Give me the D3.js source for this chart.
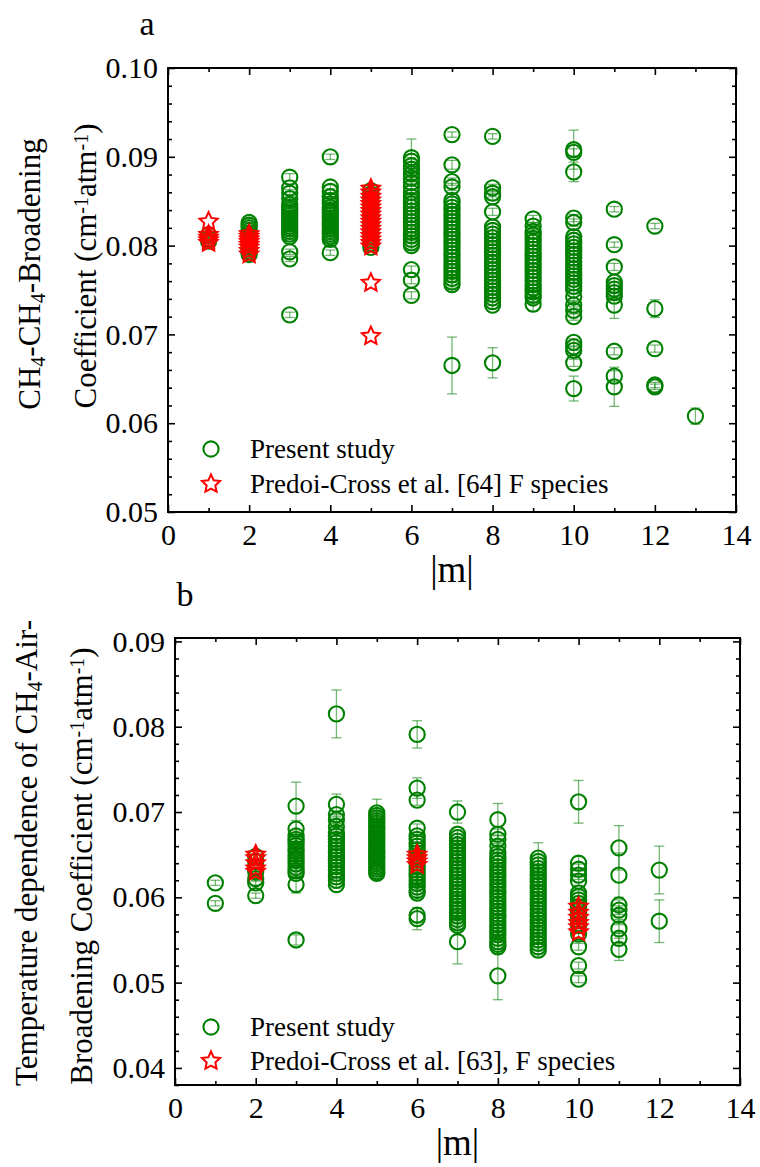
<!DOCTYPE html>
<html>
<head>
<meta charset="utf-8">
<script src="https://cdn.jsdelivr.net/npm/d3@7"></script>
<style>
  body { margin: 0; background: #fff; }
  text { font-family: "Liberation Serif", "Times New Roman", serif; fill: #000; }
</style>
</head>
<body>
<svg id="fig" width="760" height="1167"></svg>
<script>
// ---------- data ----------
// |m| values for each column
const mA = [1, 2, 3, 4, 5, 6, 7, 8, 9, 10, 11, 12, 13];
const mB = [1, 2, 3, 4, 5, 6, 7, 8, 9, 10, 11, 12];

// (a) CH4-CH4 broadening, present study: [coefficient, uncertainty] per |m|
const selfPresent = [
  [[0.0812,0.0003],[0.0808,0.0003],[0.0805,0.0003]],
  [[0.0826,0.0004],[0.0823,0.0003],[0.0820,0.0003],[0.0817,0.0003],[0.0814,0.0003],[0.0811,0.0003],[0.0808,0.0003],[0.0805,0.0003],[0.0802,0.0003],[0.0799,0.0003],[0.0796,0.0003],[0.0793,0.0003],[0.0790,0.0003]],
  [[0.0877,0.0004],[0.0865,0.0004],[0.0859,0.0004],[0.0853,0.0003],[0.0846,0.0003],[0.0843,0.0003],[0.0840,0.0003],[0.0837,0.0003],[0.0834,0.0003],[0.0831,0.0003],[0.0828,0.0003],[0.0825,0.0003],[0.0822,0.0003],[0.0819,0.0003],[0.0816,0.0003],[0.0813,0.0003],[0.0810,0.0003],[0.0793,0.0003],[0.0785,0.0003],[0.0722,0.0003]],
  [[0.0900,0.0003],[0.0866,0.0003],[0.0861,0.0003],[0.0855,0.0003],[0.0851,0.0003],[0.0847,0.0003],[0.0843,0.0003],[0.0840,0.0003],[0.0837,0.0003],[0.0834,0.0003],[0.0831,0.0003],[0.0828,0.0003],[0.0825,0.0003],[0.0822,0.0003],[0.0819,0.0003],[0.0816,0.0003],[0.0813,0.0003],[0.0810,0.0003],[0.0807,0.0003],[0.0792,0.0003]],
  [[0.0862,0.0003],[0.0858,0.0003],[0.0854,0.0003],[0.0850,0.0003],[0.0846,0.0003],[0.0842,0.0003],[0.0838,0.0003],[0.0834,0.0003],[0.0830,0.0003],[0.0826,0.0003],[0.0822,0.0003],[0.0818,0.0003],[0.0814,0.0003],[0.0810,0.0003],[0.0806,0.0003],[0.0802,0.0003],[0.0798,0.0003]],
  [[0.0899,0.0021],[0.0895,0.0004],[0.0890,0.0004],[0.0886,0.0004],[0.0881,0.0004],[0.0876,0.0004],[0.0871,0.0004],[0.0866,0.0004],[0.0860,0.0004],[0.0855,0.0004],[0.0851,0.0004],[0.0847,0.0004],[0.0843,0.0004],[0.0839,0.0004],[0.0835,0.0004],[0.0831,0.0004],[0.0827,0.0004],[0.0823,0.0004],[0.0819,0.0004],[0.0815,0.0004],[0.0811,0.0004],[0.0807,0.0004],[0.0803,0.0004],[0.0800,0.0004],[0.0773,0.0004],[0.0761,0.0004],[0.0744,0.0004]],
  [[0.0925,0.0003],[0.0891,0.0005],[0.0872,0.0004],[0.0866,0.0004],[0.0851,0.0004],[0.0847,0.0004],[0.0843,0.0004],[0.0839,0.0004],[0.0835,0.0004],[0.0831,0.0004],[0.0827,0.0004],[0.0823,0.0004],[0.0819,0.0004],[0.0815,0.0004],[0.0811,0.0004],[0.0807,0.0004],[0.0803,0.0004],[0.0799,0.0004],[0.0795,0.0004],[0.0791,0.0004],[0.0787,0.0004],[0.0783,0.0004],[0.0779,0.0004],[0.0775,0.0004],[0.0771,0.0004],[0.0767,0.0004],[0.0763,0.0004],[0.0759,0.0004],[0.0756,0.0004],[0.0665,0.0032]],
  [[0.0923,0.0003],[0.0865,0.0004],[0.0859,0.0004],[0.0855,0.0004],[0.0838,0.0004],[0.0821,0.0004],[0.0817,0.0004],[0.0813,0.0004],[0.0809,0.0004],[0.0805,0.0004],[0.0801,0.0004],[0.0797,0.0004],[0.0793,0.0004],[0.0789,0.0004],[0.0785,0.0004],[0.0781,0.0004],[0.0777,0.0004],[0.0773,0.0004],[0.0769,0.0004],[0.0765,0.0004],[0.0761,0.0004],[0.0757,0.0004],[0.0753,0.0004],[0.0749,0.0004],[0.0745,0.0004],[0.0741,0.0004],[0.0737,0.0004],[0.0733,0.0004],[0.0668,0.0017]],
  [[0.0830,0.0004],[0.0822,0.0004],[0.0816,0.0004],[0.0812,0.0004],[0.0808,0.0004],[0.0804,0.0004],[0.0800,0.0004],[0.0796,0.0004],[0.0792,0.0004],[0.0788,0.0004],[0.0784,0.0004],[0.0780,0.0004],[0.0776,0.0004],[0.0772,0.0004],[0.0768,0.0004],[0.0764,0.0004],[0.0760,0.0004],[0.0756,0.0004],[0.0752,0.0004],[0.0748,0.0004],[0.0744,0.0004],[0.0741,0.0004],[0.0734,0.0008]],
  [[0.0908,0.0022],[0.0905,0.0004],[0.0883,0.0011],[0.0831,0.0004],[0.0826,0.0004],[0.0810,0.0004],[0.0806,0.0004],[0.0802,0.0004],[0.0798,0.0004],[0.0794,0.0004],[0.0790,0.0004],[0.0786,0.0004],[0.0782,0.0004],[0.0778,0.0004],[0.0774,0.0004],[0.0770,0.0004],[0.0766,0.0004],[0.0762,0.0004],[0.0758,0.0004],[0.0754,0.0004],[0.0750,0.0004],[0.0742,0.0004],[0.0733,0.0004],[0.0727,0.0004],[0.0720,0.0004],[0.0691,0.0004],[0.0686,0.0004],[0.0682,0.0004],[0.0668,0.0004],[0.0639,0.0014]],
  [[0.0841,0.0003],[0.0801,0.0003],[0.0776,0.0004],[0.0759,0.0004],[0.0755,0.0004],[0.0751,0.0004],[0.0747,0.0004],[0.0743,0.0004],[0.0733,0.0015],[0.0681,0.0004],[0.0653,0.0006],[0.0641,0.0022]],
  [[0.0822,0.0003],[0.0729,0.0010],[0.0684,0.0004],[0.0643,0.0003],[0.0641,0.0003]],
  [[0.0608,0.0009]]
];

// (a) Predoi-Cross et al. [64], F species
const selfRefM = [1, 2, 5];
const selfRef = [
  [0.0827, 0.0812, 0.0809, 0.0806, 0.0803],
  [0.0813, 0.0810, 0.0807, 0.0804, 0.0801, 0.0798, 0.0794, 0.0790],
  [0.0864, 0.0860, 0.0855, 0.0851, 0.0847, 0.0843, 0.0839, 0.0835, 0.0831, 0.0827, 0.0823, 0.0819, 0.0815, 0.0811, 0.0807, 0.0803, 0.0799, 0.0758, 0.0698]
];

// (b) temperature dependence of CH4-air broadening, present study
const airPresent = [
  [[0.0617,0.0003],[0.0593,0.0003]],
  [[0.0648,0.0003],[0.0642,0.0003],[0.0636,0.0003],[0.0630,0.0003],[0.0622,0.0003],[0.0617,0.0003],[0.0602,0.0003]],
  [[0.0707,0.0028],[0.0680,0.0010],[0.0672,0.0004],[0.0668,0.0004],[0.0665,0.0004],[0.0661,0.0004],[0.0657,0.0004],[0.0654,0.0004],[0.0650,0.0004],[0.0646,0.0004],[0.0643,0.0004],[0.0639,0.0004],[0.0635,0.0004],[0.0631,0.0004],[0.0628,0.0004],[0.0615,0.0010],[0.0550,0.0006]],
  [[0.0815,0.0028],[0.0709,0.0012],[0.0697,0.0004],[0.0691,0.0004],[0.0683,0.0004],[0.0676,0.0004],[0.0672,0.0004],[0.0668,0.0004],[0.0664,0.0004],[0.0660,0.0004],[0.0656,0.0004],[0.0652,0.0004],[0.0648,0.0004],[0.0644,0.0004],[0.0640,0.0004],[0.0636,0.0004],[0.0632,0.0004],[0.0628,0.0004],[0.0624,0.0004],[0.0620,0.0004],[0.0615,0.0004]],
  [[0.0699,0.0016],[0.0696,0.0004],[0.0693,0.0004],[0.0690,0.0004],[0.0687,0.0004],[0.0684,0.0004],[0.0681,0.0004],[0.0678,0.0004],[0.0675,0.0004],[0.0672,0.0004],[0.0669,0.0004],[0.0666,0.0004],[0.0663,0.0004],[0.0660,0.0004],[0.0657,0.0004],[0.0654,0.0004],[0.0651,0.0004],[0.0648,0.0004],[0.0645,0.0004],[0.0642,0.0004],[0.0639,0.0004],[0.0636,0.0004],[0.0633,0.0004],[0.0630,0.0004],[0.0628,0.0004]],
  [[0.0791,0.0016],[0.0728,0.0012],[0.0714,0.0006],[0.0681,0.0005],[0.0672,0.0004],[0.0668,0.0004],[0.0664,0.0004],[0.0660,0.0004],[0.0656,0.0004],[0.0652,0.0004],[0.0648,0.0004],[0.0644,0.0004],[0.0640,0.0004],[0.0636,0.0004],[0.0632,0.0004],[0.0628,0.0004],[0.0624,0.0004],[0.0620,0.0004],[0.0616,0.0004],[0.0612,0.0004],[0.0608,0.0004],[0.0605,0.0004],[0.0579,0.0008],[0.0575,0.0013]],
  [[0.0700,0.0013],[0.0674,0.0005],[0.0670,0.0004],[0.0666,0.0004],[0.0662,0.0004],[0.0658,0.0004],[0.0654,0.0004],[0.0650,0.0004],[0.0646,0.0004],[0.0642,0.0004],[0.0638,0.0004],[0.0634,0.0004],[0.0630,0.0004],[0.0626,0.0004],[0.0622,0.0004],[0.0618,0.0004],[0.0614,0.0004],[0.0610,0.0004],[0.0606,0.0004],[0.0602,0.0004],[0.0598,0.0004],[0.0594,0.0004],[0.0590,0.0004],[0.0586,0.0004],[0.0582,0.0004],[0.0578,0.0004],[0.0574,0.0004],[0.0570,0.0004],[0.0567,0.0004],[0.0548,0.0026]],
  [[0.0691,0.0019],[0.0674,0.0006],[0.0668,0.0005],[0.0660,0.0005],[0.0652,0.0004],[0.0648,0.0004],[0.0644,0.0004],[0.0640,0.0004],[0.0636,0.0004],[0.0632,0.0004],[0.0628,0.0004],[0.0624,0.0004],[0.0620,0.0004],[0.0616,0.0004],[0.0612,0.0004],[0.0608,0.0004],[0.0604,0.0004],[0.0600,0.0004],[0.0596,0.0004],[0.0592,0.0004],[0.0588,0.0004],[0.0584,0.0004],[0.0580,0.0004],[0.0576,0.0004],[0.0572,0.0004],[0.0568,0.0004],[0.0564,0.0004],[0.0560,0.0004],[0.0556,0.0004],[0.0552,0.0004],[0.0548,0.0004],[0.0545,0.0006],[0.0542,0.0008],[0.0508,0.0028]],
  [[0.0646,0.0018],[0.0642,0.0004],[0.0638,0.0004],[0.0634,0.0004],[0.0630,0.0004],[0.0626,0.0004],[0.0622,0.0004],[0.0618,0.0004],[0.0614,0.0004],[0.0610,0.0004],[0.0606,0.0004],[0.0602,0.0004],[0.0598,0.0004],[0.0594,0.0004],[0.0590,0.0004],[0.0586,0.0004],[0.0582,0.0004],[0.0578,0.0004],[0.0574,0.0004],[0.0570,0.0004],[0.0566,0.0004],[0.0562,0.0004],[0.0558,0.0004],[0.0554,0.0004],[0.0550,0.0004],[0.0546,0.0004],[0.0542,0.0004],[0.0538,0.0008]],
  [[0.0712,0.0025],[0.0640,0.0008],[0.0633,0.0006],[0.0626,0.0005],[0.0619,0.0005],[0.0605,0.0004],[0.0601,0.0004],[0.0597,0.0004],[0.0593,0.0004],[0.0589,0.0004],[0.0585,0.0004],[0.0581,0.0004],[0.0577,0.0004],[0.0573,0.0004],[0.0569,0.0004],[0.0567,0.0004],[0.0557,0.0004],[0.0542,0.0004],[0.0520,0.0004],[0.0504,0.0004]],
  [[0.0658,0.0026],[0.0626,0.0026],[0.0591,0.0006],[0.0585,0.0005],[0.0579,0.0005],[0.0563,0.0005],[0.0552,0.0006],[0.0539,0.0013]],
  [[0.0632,0.0028],[0.0572,0.0025]]
];

// (b) Predoi-Cross et al. [63], F species
const airRefM = [2, 6, 10];
const airRef = [
  [0.0650, 0.0646, 0.0640, 0.0634, 0.0630],
  [0.0650, 0.0646, 0.0642, 0.0638],
  [0.0589, 0.0582, 0.0576, 0.0570, 0.0565, 0.0559]
];

// axis ticks
const xTickLabels = [0, 2, 4, 6, 8, 10, 12, 14];
const xMinorTicks = [1, 3, 5, 7, 9, 11, 13];
const yTicksA = [0.05, 0.06, 0.07, 0.08, 0.09, 0.10];
const yTicksB = [0.04, 0.05, 0.06, 0.07, 0.08, 0.09];

const legendA = ["Present study", "Predoi-Cross et al. [64] F species"];
const legendB = ["Present study", "Predoi-Cross et al. [63], F species"];

// ---------- drawing ----------
const GREEN = "#008000", RED = "#ff0000";
const svg = d3.select("#fig");

function starPath(R) {
  const r = R * 0.48, pts = [];
  for (let i = 0; i < 10; i++) {
    const a = -Math.PI / 2 + i * Math.PI / 5, rr = i % 2 ? r : R;
    pts.push([rr * Math.cos(a), rr * Math.sin(a)]);
  }
  return "M" + pts.map(p => p[0].toFixed(2) + "," + p[1].toFixed(2)).join("L") + "Z";
}

function flatten(ms, cols) {
  const out = [];
  cols.forEach((col, i) => col.forEach(d => {
    if (Array.isArray(d)) out.push({ m: ms[i], v: d[0], e: d[1] });
    else out.push({ m: ms[i], v: d });
  }));
  return out;
}

function panel(cfg) {
  const x = d3.scaleLinear().domain([0, 14]).range([cfg.left, cfg.right]);
  const y = d3.scaleLinear().domain(cfg.yDomain).range([cfg.bottom, cfg.top]);
  const g = svg.append("g");

  // y minor ticks every 0.002
  const yMinor = d3.range(Math.round(cfg.yDomain[0] * 1000), Math.round(cfg.yDomain[1] * 1000) + 1, 2)
    .map(v => v / 1000).filter(v => !cfg.yTicks.some(t => Math.abs(t - v) < 1e-9));

  const styleAxis = sel => {
    sel.select(".domain").remove();
    sel.selectAll("line").attr("stroke", "#000").attr("stroke-width", 1.6);
    sel.selectAll("text").style("font-size", "30px").attr("fill", "#000")
      .style("font-family", '"Liberation Serif", serif');
  };

  // bottom
  g.append("g").attr("transform", `translate(0,${cfg.bottom})`)
    .call(d3.axisBottom(x).tickValues(xTickLabels).tickSize(-7).tickPadding(12).tickFormat(d3.format("d")))
    .call(styleAxis);
  g.append("g").attr("transform", `translate(0,${cfg.bottom})`)
    .call(d3.axisBottom(x).tickValues(xMinorTicks).tickSize(-4).tickFormat(""))
    .call(styleAxis);
  // top
  g.append("g").attr("transform", `translate(0,${cfg.top})`)
    .call(d3.axisTop(x).tickValues(xTickLabels).tickSize(-7).tickFormat(""))
    .call(styleAxis);
  g.append("g").attr("transform", `translate(0,${cfg.top})`)
    .call(d3.axisTop(x).tickValues(xMinorTicks).tickSize(-4).tickFormat(""))
    .call(styleAxis);
  // left
  g.append("g").attr("transform", `translate(${cfg.left},0)`)
    .call(d3.axisLeft(y).tickValues(cfg.yTicks).tickSize(-7).tickPadding(10).tickFormat(d3.format(".2f")))
    .call(styleAxis);
  g.append("g").attr("transform", `translate(${cfg.left},0)`)
    .call(d3.axisLeft(y).tickValues(yMinor).tickSize(-4).tickFormat(""))
    .call(styleAxis);
  // right
  g.append("g").attr("transform", `translate(${cfg.right},0)`)
    .call(d3.axisRight(y).tickValues(cfg.yTicks).tickSize(-7).tickFormat(""))
    .call(styleAxis);
  g.append("g").attr("transform", `translate(${cfg.right},0)`)
    .call(d3.axisRight(y).tickValues(yMinor).tickSize(-4).tickFormat(""))
    .call(styleAxis);

  // frame
  g.append("rect")
    .attr("x", cfg.left).attr("y", cfg.top)
    .attr("width", cfg.right - cfg.left).attr("height", cfg.bottom - cfg.top)
    .attr("fill", "none").attr("stroke", "#000").attr("stroke-width", 2);

  const pts = flatten(cfg.mVals, cfg.present);
  const refs = flatten(cfg.refM, cfg.ref);

  // error bars
  const eb = g.append("g").attr("stroke", GREEN).attr("stroke-opacity", 0.55).attr("stroke-width", 1.3).attr("fill", "none");
  pts.forEach(d => {
    const x0 = x(d.m), y1 = y(d.v + d.e), y2 = y(d.v - d.e);
    eb.append("line").attr("x1", x0).attr("x2", x0).attr("y1", y1).attr("y2", y2);
    eb.append("line").attr("x1", x0 - 5).attr("x2", x0 + 5).attr("y1", y1).attr("y2", y1);
    eb.append("line").attr("x1", x0 - 5).attr("x2", x0 + 5).attr("y1", y2).attr("y2", y2);
  });

  // circles
  g.append("g").selectAll("circle").data(pts).join("circle")
    .attr("cx", d => x(d.m)).attr("cy", d => y(d.v)).attr("r", 7.6)
    .attr("fill", "none").attr("stroke", GREEN).attr("stroke-width", 2.1);

  // stars
  const sp = starPath(9.5);
  g.append("g").selectAll("path").data(refs).join("path")
    .attr("d", sp).attr("transform", d => `translate(${x(d.m)},${y(d.v)})`)
    .attr("fill", "none").attr("stroke", RED).attr("stroke-width", 2).attr("stroke-linejoin", "miter");

  // legend
  const lx = cfg.legend.x;
  g.append("circle").attr("cx", lx).attr("cy", cfg.legend.y1).attr("r", 7.6)
    .attr("fill", "none").attr("stroke", GREEN).attr("stroke-width", 2.1);
  g.append("path").attr("d", sp).attr("transform", `translate(${lx},${cfg.legend.y2})`)
    .attr("fill", "none").attr("stroke", RED).attr("stroke-width", 2);
  g.append("text").attr("x", lx + 39).attr("y", cfg.legend.y1 + 9).style("font-size", "27px").text(cfg.legend.labels[0]);
  g.append("text").attr("x", lx + 39).attr("y", cfg.legend.y2 + 9).style("font-size", "27px").text(cfg.legend.labels[1]);

  // x title
  g.append("text").attr("x", (cfg.left + cfg.right) / 2).attr("y", cfg.bottom + 70)
    .attr("text-anchor", "middle").style("font-size", "37px").text("|m|");

  // panel letter
  g.append("text").attr("x", cfg.letter.x).attr("y", cfg.letter.y)
    .attr("text-anchor", "middle").style("font-size", "34px").text(cfg.letter.t);

  // y title (two lines)
  cfg.yTitle.forEach(line => {
    const t = g.append("text")
      .attr("transform", `translate(${line.x},${line.cy}) rotate(-90)`)
      .attr("text-anchor", "middle").style("font-size", "31px");
    line.parts.forEach(p => {
      const ts = t.append("tspan").text(p.t);
      if (p.sub) ts.attr("baseline-shift", "-25%").style("font-size", "20px");
      if (p.sup) ts.attr("baseline-shift", "40%").style("font-size", "20px");
    });
  });
}

const unitParts = [
  { t: "(cm" }, { t: "-1", sup: true }, { t: "atm" }, { t: "-1", sup: true }, { t: ")" }
];

panel({
  left: 168, right: 736, top: 68, bottom: 512,
  yDomain: [0.05, 0.10], yTicks: yTicksA,
  mVals: mA, present: selfPresent, refM: selfRefM, ref: selfRef,
  legend: { x: 211, y1: 449, y2: 484, labels: legendA },
  letter: { x: 147, y: 35, t: "a" },
  yTitle: [
    { x: 40, cy: 274, parts: [{ t: "CH" }, { t: "4", sub: true }, { t: "-CH" }, { t: "4", sub: true }, { t: "-Broadening" }] },
    { x: 96, cy: 266, parts: [{ t: "Coefficient " }].concat(unitParts) }
  ]
});

panel({
  left: 175, right: 740, top: 638, bottom: 1085,
  yDomain: [0.038, 0.0904], yTicks: yTicksB,
  mVals: mB, present: airPresent, refM: airRefM, ref: airRef,
  legend: { x: 211, y1: 1027, y2: 1061, labels: legendB },
  letter: { x: 185, y: 606, t: "b" },
  yTitle: [
    { x: 37, cy: 853, parts: [{ t: "Temperature dependence of CH" }, { t: "4", sub: true }, { t: "-Air-" }] },
    { x: 92, cy: 866, parts: [{ t: "Broadening Coefficient " }].concat(unitParts) }
  ]
});
</script>
</body>
</html>
